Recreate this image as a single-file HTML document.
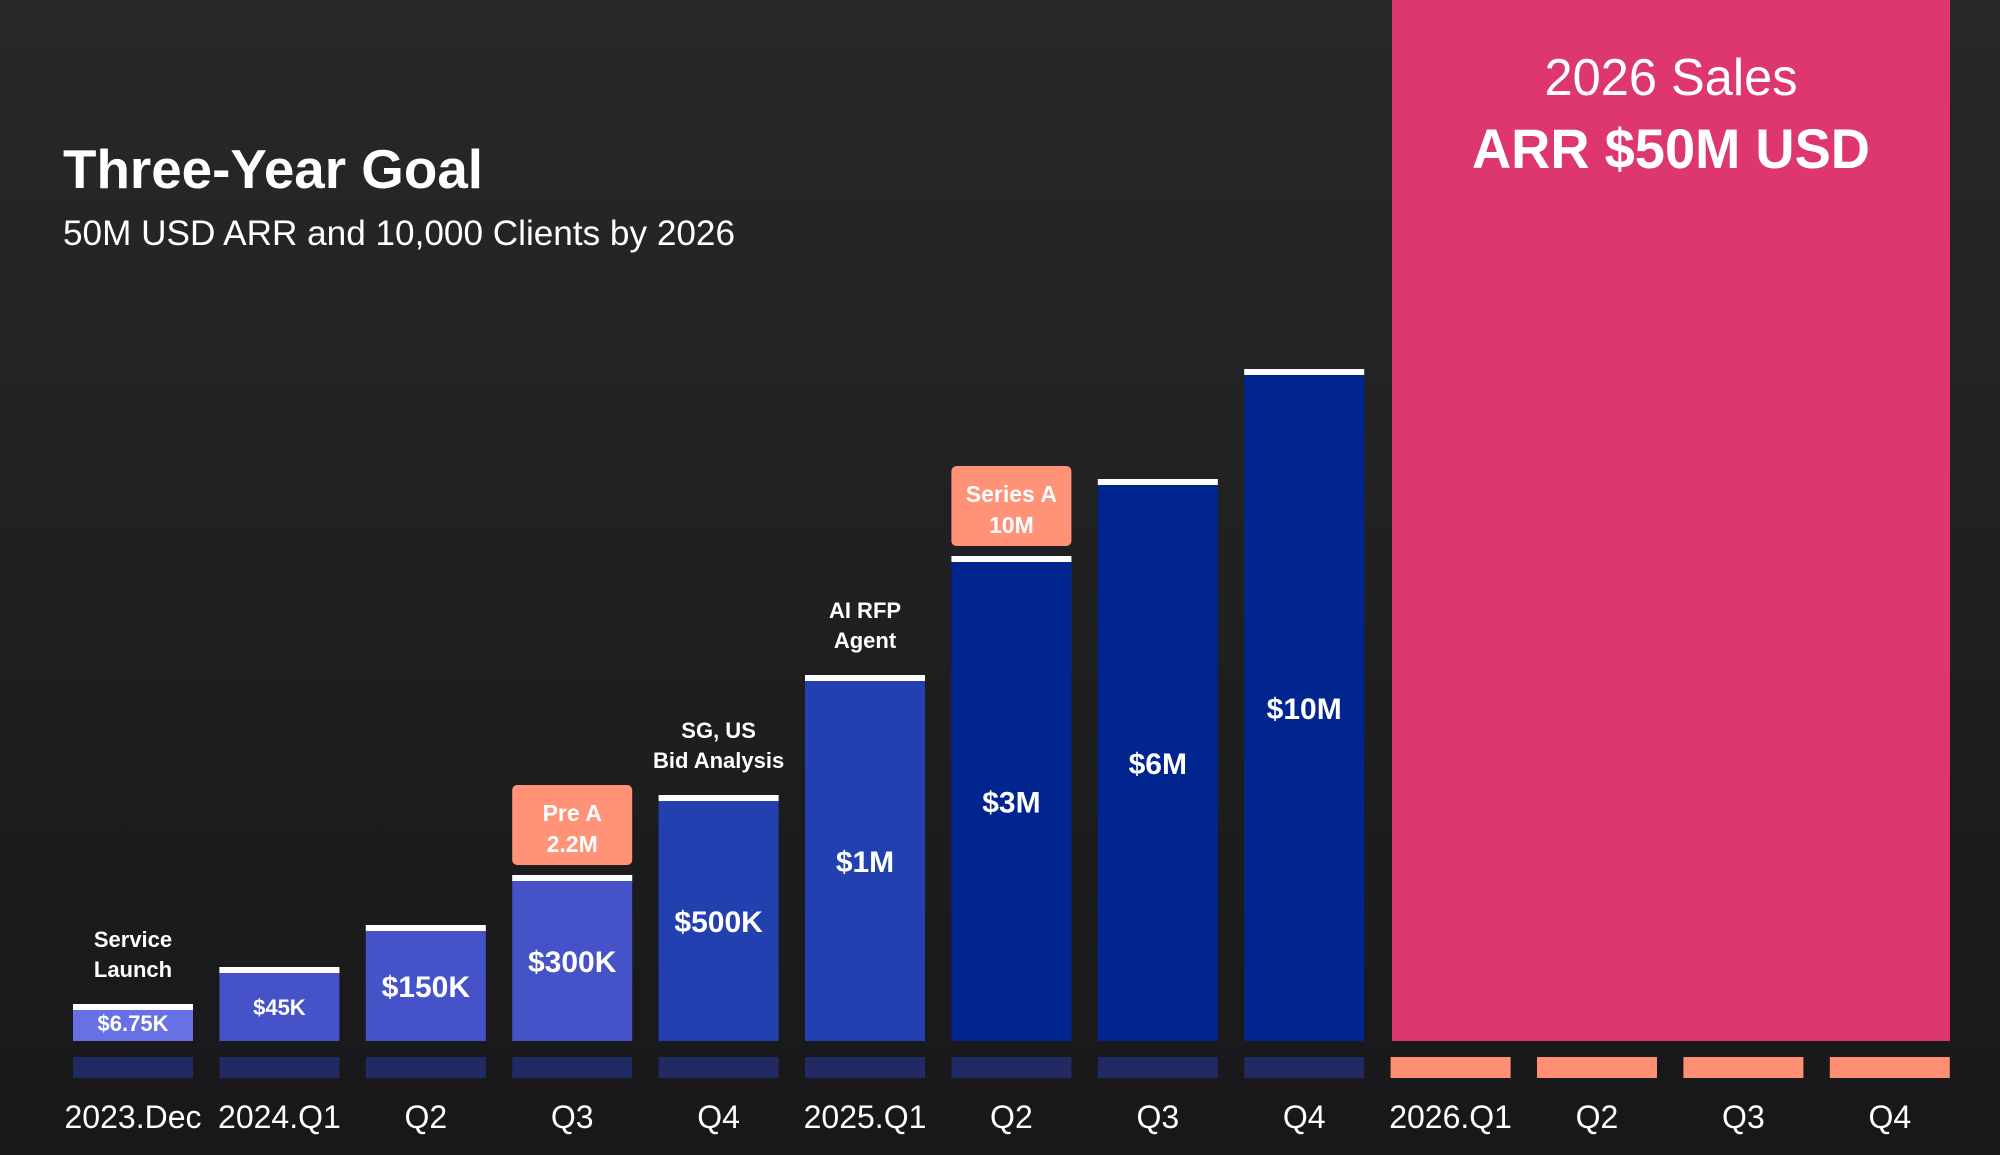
<!DOCTYPE html>
<html><head><meta charset="utf-8">
<style>
html,body{margin:0;padding:0;width:2000px;height:1155px;overflow:hidden;background:#1c1c1e}
svg{display:block}
text{font-family:"Liberation Sans",sans-serif}
</style></head>
<body>
<svg id="chart" width="2000" height="1155" viewBox="0 0 2000 1155" xmlns="http://www.w3.org/2000/svg">
<defs>
<linearGradient id="bg" x1="0" y1="0" x2="0" y2="1">
<stop offset="0" stop-color="#27282a"/><stop offset="1" stop-color="#18181a"/>
</linearGradient>
</defs>
<rect x="0" y="0" width="2000" height="1155" fill="url(#bg)"/>
<text x="63" y="188" font-size="55" font-weight="bold" fill="#fff" textLength="420" lengthAdjust="spacingAndGlyphs">Three-Year Goal</text>
<text x="63" y="245" font-size="35" fill="#fff" textLength="672" lengthAdjust="spacingAndGlyphs">50M USD ARR and 10,000 Clients by 2026</text>
<rect x="1392" y="0" width="558" height="1041" fill="#de3770"/>
<text x="1671" y="95" font-size="52" fill="#fff" text-anchor="middle" textLength="253" lengthAdjust="spacingAndGlyphs">2026 Sales</text>
<text x="1671" y="168" font-size="56" font-weight="bold" fill="#fff" text-anchor="middle" textLength="398" lengthAdjust="spacingAndGlyphs">ARR $50M USD</text>
<g id="bars"></g>
</svg>
<script>
const categories = ["2023.Dec","2024.Q1","Q2","Q3","Q4","2025.Q1","Q2","Q3","Q4","2026.Q1","Q2","Q3","Q4"];
const arrValues = [6750,45000,150000,300000,500000,1000000,3000000,6000000,10000000];
const valueLabels = ["$6.75K","$45K","$150K","$300K","$500K","$1M","$3M","$6M","$10M"];
const milestones = [["Service","Launch"],null,null,null,["SG, US","Bid Analysis"],["AI RFP","Agent"],null,null,null];
const fundings = [null,null,null,["Pre A","2.2M"],null,null,["Series A","10M"],null,null];

// piecewise axis (non-linear presentation scale of the original)
const scaleDomain = [0,6750,45000,150000,300000,500000,1000000,3000000,6000000,10000000];
const scaleRange  = [0,37,74,116,166,246,366,485,562,672];
const baseY = 1041;
function yScale(v){
  for(let i=1;i<scaleDomain.length;i++){
    if(v<=scaleDomain[i]){const t=(v-scaleDomain[i-1])/(scaleDomain[i]-scaleDomain[i-1]);return baseY-(scaleRange[i-1]+t*(scaleRange[i]-scaleRange[i-1]));}
  }
  const n=scaleDomain.length-1;return baseY-scaleRange[n]*v/scaleDomain[n];
}
const x0=73, step=146.4, bw=120;
function xScale(i){return x0+i*step;}
const ns="http://www.w3.org/2000/svg";
const g=document.getElementById("bars");
function mk(tag,attrs){const e=document.createElementNS(ns,tag);for(const k in attrs)e.setAttribute(k,attrs[k]);g.appendChild(e);return e;}
function barColor(i){return i===0?"#6870e6":i<4?"#4653c8":i<6?"#2340b0":"#00258f";}
function labelSize(i){return i<2?22:30;}

categories.forEach((c,i)=>{
  const x=xScale(i);
  const tick=mk("rect",{x:x,y:1057,width:bw,height:21,fill:i>=9?"#ff8f73":"#212a63"});
  
  
  const t=mk("text",{x:x+bw/2,y:1128,"font-size":32,fill:"#fff","text-anchor":"middle"});
  t.textContent=c;
  
  
});

arrValues.forEach((v,i)=>{
  const x=xScale(i), y=yScale(v);
  const b=mk("rect",{x:x,y:y,width:bw,height:baseY-y,fill:barColor(i)});
  
  
  const cap=mk("rect",{x:x,y:y,width:bw,height:6,fill:"#ffffff"});
  
  
  const fs=labelSize(i);
  const ly = i===0 ? baseY-10 : (y+6+(baseY-y-6)/2+fs*0.36);
  const lt=mk("text",{x:x+bw/2,y:ly,"font-size":fs,"font-weight":"bold",fill:"#fff","text-anchor":"middle"});
  lt.textContent=valueLabels[i];
  
  
  if(milestones[i]){
    milestones[i].forEach((line,k)=>{
      const mt=mk("text",{x:x+bw/2,y:y-57+k*30,"font-size":22,"font-weight":"bold",fill:"#fff","text-anchor":"middle"});
      mt.textContent=line;
      
      
    });
  }
  if(fundings[i]){
    const bx=mk("rect",{x:x,y:y-90,width:bw,height:80,rx:5,fill:"#ff9277"});
    
    
    fundings[i].forEach((line,k)=>{
      const ft=mk("text",{x:x+bw/2,y:y-54+k*31,"font-size":23,"font-weight":"bold",fill:"#fff","text-anchor":"middle"});
      ft.textContent=line;
      
      
    });
  }
});
</script>
</body></html>
